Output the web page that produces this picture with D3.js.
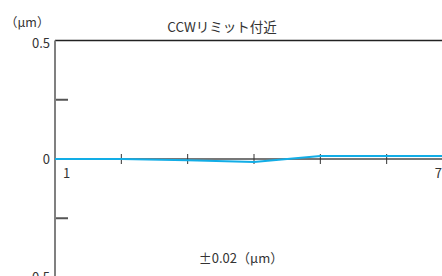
<!DOCTYPE html>
<html>
<head>
<meta charset="utf-8">
<script src="https://cdn.jsdelivr.net/npm/d3@7"></script>
<style>
body { margin: 0; background: #fff; }
text { font-family: "Liberation Sans Narrow", "Noto Sans CJK JP", sans-serif; fill: #333; }
</style>
</head>
<body>
<svg id="chart"></svg>
<script>
// data
const positions = [1, 2, 3, 4, 5, 6, 7]
const deviation = [0, 0, -0.005, -0.013, 0.013, 0.013, 0.013]
const yTicks = [0.5, 0.25, 0, -0.25, -0.5]
const yTickLabels = ["0.5", "", "0", "", "-0.5"]
const xTickLabels = ["1", "", "", "", "", "", "7"]
const title = "CCWリミット付近"
const unitLabel = "（μm）"
const note = "±0.02（μm）"

let width = 442, height = 276

let svg = d3.select('#chart')
    .attr('width', width)
    .attr('height', height)

let x = d3.scaleLinear().domain([1, 7]).range([55, 453])
let y = d3.scaleLinear().domain([-0.5, 0.5]).range([277.5, 40.5])

// top frame line
svg.append('line')
    .attr('x1', x(1)).attr('x2', width)
    .attr('y1', y(0.5)).attr('y2', y(0.5))
    .attr('stroke', '#222').attr('stroke-width', 1.5)

// y axis
let yAxis = d3.axisLeft(y).tickValues(yTicks).tickSize(0).tickPadding(5)
    .tickFormat((d, i) => yTickLabels[i])
let gy = svg.append('g').attr('transform', 'translate(' + x(1) + ',0)').call(yAxis)
gy.select('.domain').remove()
gy.selectAll('text').attr('font-size', 13).style('fill', '#333')
    .style('font-family', '"Liberation Sans Narrow", "Noto Sans CJK JP", sans-serif')
    .attr('dy', (d) => d === 0.5 ? '0.55em' : '0.32em')

// inner tick marks for ±0.25
svg.selectAll('.ytick')
    .data(yTicks.filter(d => Math.abs(d) === 0.25))
    .enter()
    .append('line')
    .attr('x1', x(1)).attr('x2', x(1) + 13)
    .attr('y1', d => y(d)).attr('y2', d => y(d))
    .attr('stroke', '#555').attr('stroke-width', 2)

// zero line
svg.append('line')
    .attr('x1', x(1)).attr('x2', width)
    .attr('y1', y(0)).attr('y2', y(0))
    .attr('stroke', '#777').attr('stroke-width', 2)

// x ticks along zero line
svg.selectAll('.xtick')
    .data(positions.slice(1, 6))
    .enter()
    .append('line')
    .attr('x1', d => x(d)).attr('x2', d => x(d))
    .attr('y1', y(0) - 5).attr('y2', y(0) + 5)
    .attr('stroke', '#333').attr('stroke-width', 1)

// x labels
svg.selectAll('.xlabel')
    .data(positions.filter((d, i) => xTickLabels[i] !== ""))
    .enter()
    .append('text')
    .attr('x', d => d === 1 ? x(d) + 8 : x(d) - 11)
    .attr('y', y(0) + 19)
    .attr('text-anchor', d => d === 1 ? 'start' : 'end')
    .attr('font-size', 13)
    .text(d => xTickLabels[positions.indexOf(d)])

// y axis line
svg.append('line')
    .attr('x1', x(1)).attr('x2', x(1))
    .attr('y1', y(0.5)).attr('y2', height)
    .attr('stroke', '#808080').attr('stroke-width', 2)

// data line
let line = d3.line()
    .x((d, i) => x(positions[i]))
    .y(d => y(d))
svg.append('path')
    .datum(deviation)
    .attr('d', line)
    .attr('fill', 'none')
    .attr('stroke', '#12ade6')
    .attr('stroke-width', 2)

// texts
svg.append('text').attr('x', 222).attr('y', 32).attr('text-anchor', 'middle')
    .attr('font-size', 13.5).text(title)
svg.append('text').attr('x', 5).attr('y', 27).attr('font-size', 12.5).text(unitLabel)
svg.append('text').attr('x', 241).attr('y', 263).attr('text-anchor', 'middle')
    .attr('font-size', 13).text(note)
</script>
</body>
</html>
